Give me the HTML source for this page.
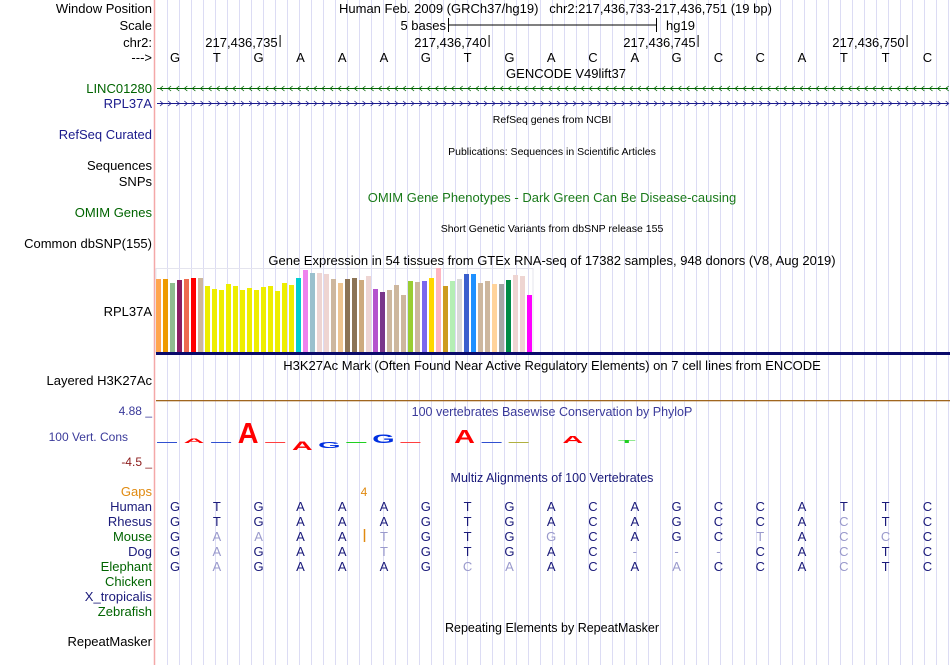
<!DOCTYPE html>
<html><head><meta charset="utf-8"><style>
html,body{margin:0;padding:0;background:#fff;}
svg{display:block;font-family:"Liberation Sans",Arial,sans-serif;}
</style></head><body>
<svg id="s" width="950" height="665" viewBox="0 0 950 665">
<g id="grid"></g>
<line x1="154.5" y1="0" x2="154.5" y2="665" stroke="#f4a8a8" stroke-width="1.5"/>
<g font-size="13" text-anchor="end">
<text x="152" y="13" fill="#000">Window Position</text>
<text x="152" y="30" fill="#000">Scale</text>
<text x="152" y="47" fill="#000">chr2:</text>
<text x="152" y="62" fill="#000">---&gt;</text>
<text x="152" y="93" fill="#006400">LINC01280</text>
<text x="152" y="108" fill="#1a1a8c">RPL37A</text>
<text x="152" y="139" fill="#1a1a8c">RefSeq Curated</text>
<text x="152" y="170" fill="#000">Sequences</text>
<text x="152" y="186" fill="#000">SNPs</text>
<text x="152" y="217" fill="#006400">OMIM Genes</text>
<text x="152" y="248" fill="#000">Common dbSNP(155)</text>
<text x="152" y="316" fill="#000">RPL37A</text>
<text x="152" y="385" fill="#000">Layered H3K27Ac</text>
<text x="152" y="415" fill="#3a3a9a" font-size="12">4.88 _</text>
<text x="128" y="441" fill="#3a3a9a" font-size="12">100 Vert. Cons</text>
<text x="152" y="466" fill="#8b1a1a" font-size="12">-4.5 _</text>
<text x="152" y="496" fill="#e08a10">Gaps</text>
<text x="152" y="511" fill="#1a1a7a">Human</text>
<text x="152" y="526" fill="#1a1a7a">Rhesus</text>
<text x="152" y="541" fill="#006400">Mouse</text>
<text x="152" y="556" fill="#1a1a7a">Dog</text>
<text x="152" y="571" fill="#006400">Elephant</text>
<text x="152" y="586" fill="#006400">Chicken</text>
<text x="152" y="601" fill="#1a1a7a">X_tropicalis</text>
<text x="152" y="616" fill="#006400">Zebrafish</text>
<text x="152" y="646" fill="#000">RepeatMasker</text>
</g>
<g font-size="13" fill="#000">
<text x="339" y="13">Human Feb. 2009 (GRCh37/hg19)&#160;&#160; chr2:217,436,733-217,436,751 (19 bp)</text>
<text x="446" y="30" text-anchor="end">5 bases</text>
<line x1="448" y1="25" x2="656" y2="25" stroke="#000"/>
<line x1="448.5" y1="18" x2="448.5" y2="32" stroke="#000"/>
<line x1="656.5" y1="18" x2="656.5" y2="32" stroke="#000"/>
<text x="666" y="30">hg19</text>
<text x="566" y="78" text-anchor="middle">GENCODE V49lift37</text>
</g>
<g id="ruler" font-size="13"></g>
<g id="bases" font-size="13" text-anchor="middle"></g>
<g id="genes"></g>
<g font-size="10.5" text-anchor="middle" fill="#000">
<text x="552" y="123">RefSeq genes from NCBI</text>
<text x="552" y="155">Publications: Sequences in Scientific Articles</text>
<text x="552" y="232">Short Genetic Variants from dbSNP release 155</text>
</g>
<g font-size="13" text-anchor="middle">
<text x="552" y="202" fill="#1a7a1a">OMIM Gene Phenotypes - Dark Green Can Be Disease-causing</text>
<text x="552" y="265" fill="#000">Gene Expression in 54 tissues from GTEx RNA-seq of 17382 samples, 948 donors (V8, Aug 2019)</text>
<text x="552" y="370" fill="#000">H3K27Ac Mark (Often Found Near Active Regulatory Elements) on 7 cell lines from ENCODE</text>
<text x="552" y="416" fill="#3a3a9a" font-size="12.5">100 vertebrates Basewise Conservation by PhyloP</text>
<text x="552" y="482" fill="#1a1a7a" font-size="12.5">Multiz Alignments of 100 Vertebrates</text>
<text x="552" y="632" fill="#000" font-size="12.5">Repeating Elements by RepeatMasker</text>
</g>
<rect x="156" y="268.5" width="377" height="84" fill="none" stroke="#e4e4ee"/>
<g id="gtex"></g>
<rect x="156" y="352" width="794" height="3" fill="#0a0a6a"/>
<rect x="156" y="400" width="794" height="1.3" fill="#a0661e"/>
<g id="logo"></g>
<text x="364" y="496" font-size="12" fill="#e08a10" text-anchor="middle">4</text>
<line x1="364.5" y1="529" x2="364.5" y2="542" stroke="#e08a10" stroke-width="1.5"/>
<g id="maf" font-size="13" text-anchor="middle"></g>
</svg>
<script>
const NS="http://www.w3.org/2000/svg";
function mk(tag,attrs,parent,txt){const e=document.createElementNS(NS,tag);for(const k in attrs)e.setAttribute(k,attrs[k]);if(txt!==undefined)e.textContent=txt;parent.appendChild(e);return e;}
const seq=["G","T","G","A","A","A","G","T","G","A","C","A","G","C","C","A","T","T","C"];
const startPos=217436733;
const rulerTicks=[217436735,217436740,217436745,217436750];
const gtexValues=[73,73,69,72,73,74,74,66,63,62,68,66,62,64,62,65,66,61,69,67,74,82,79,79,78,73,69,73,74,72,76,63,60,62,67,57,71,70,71,74,84,66,71,73,78,78,69,71,68,68,72,77,76,57];
const gtexColors=["#FFA54F","#EE9A00","#8FBC8F","#8B1C62","#EE6A50","#FF0000","#CDB79E","#EEEE00","#EEEE00","#EEEE00","#EEEE00","#EEEE00","#EEEE00","#EEEE00","#EEEE00","#EEEE00","#EEEE00","#EEEE00","#EEEE00","#EEEE00","#00CED1","#EE82EE","#9AC0CD","#EED5D2","#EED5D2","#CDB79E","#EEC591","#8B7355","#8B7355","#CDAA7D","#EED5D2","#B452CD","#7A378B","#CDB79E","#CDB79E","#CDB79E","#9ACD32","#CDB79E","#7B68EE","#FFD700","#FFB6C1","#CD9B1D","#B4EEB4","#D9D9D9","#3A5FCD","#1E90FF","#CDB79E","#CDB79E","#FFD39B","#A6A6A6","#008B45","#EED5D2","#EED5D2","#FF00FF"];
const logoLetters=["-","A","-","A","-","A","G","-","G","-","-","A","-","-","-","A","-","T"];
const logoScores=[0.2,0.4,0.2,1.7,0.1,-0.7,-0.5,0.2,0.7,-0.1,0,1.1,0.15,-0.1,0,0.6,0,0.25];
const logoColors=["#3050d0","#ff0000","#3050d0","#ff0000","#ff4040","#ff0000","#0030e0","#20d020","#0030e0","#ff4040","#fff","#ff0000","#3050d0","#b0b040","#fff","#ff0000","#fff","#20d020"];
const species=["Human","Rhesus","Mouse","Dog","Elephant"];
const alignRows=["GTGAAAGTGACAGCCATTC","GTGAAAGTGACAGCCACTC","GAAAATGTGGCAGCTACCC","GAGAATGTGAC---CACTC","GAGAAAGCAACAACCACTC"];
const xBase=i=>175+i*41.8;
const xPos=p=>xBase(p-startPos)+21;
const xBar=i=>156+i*7;
const yBar=v=>352-v;
const xLogo=i=>167+i*27.05;
const logoBase=443, logoScale=10;
const grid=document.getElementById('grid');
for(let x=167;x<950;x+=12.02){const l=mk('line',{x1:Math.round(x)+.5,y1:0,x2:Math.round(x)+.5,y2:665,stroke:'#dcdcf4'},grid);

}
const ruler=document.getElementById('ruler');
rulerTicks.forEach(p=>{const x=xPos(p);
const t=mk('text',{x:x-2,y:47,'text-anchor':'end'},ruler,p.toLocaleString('en-US'));


const l=mk('line',{x1:x+.5,y1:35,x2:x+.5,y2:47,stroke:'#000'},ruler);

});
const bases=document.getElementById('bases');
seq.forEach((b,i)=>{const t=mk('text',{x:xBase(i),y:62},bases,b);

});
const genes=document.getElementById('genes');
[[88,'#006400','<','linc01280-gene'],[103,'#1a1a8c','>','rpl37a-gene']].forEach(([y,c,d,n])=>{
const g=mk('g',{},genes);


mk('line',{x1:157,y1:y+.5,x2:948,y2:y+.5,stroke:c},g);
for(let x=160;x<946;x+=8.1){const p=d=='<'?`M${x+3},${y-2}L${x},${y+.5}L${x+3},${y+3}`:`M${x},${y-2}L${x+3},${y+.5}L${x},${y+3}`;mk('path',{d:p,stroke:c,fill:'none','stroke-width':0.8},g);}
});
const gtex=document.getElementById('gtex');
gtexValues.forEach((v,i)=>{const r=mk('rect',{x:xBar(i),y:yBar(v),width:5,height:v,fill:gtexColors[i]},gtex);

});
const logo=document.getElementById('logo');
logoLetters.forEach((L,i)=>{const s=logoScores[i];const x=xLogo(i);
if(s===0)return;
if(L==='-'){const r=mk('rect',{x:x-10,y:logoBase-1,width:20,height:1,fill:logoColors[i]},logo);

return;}
const h=Math.abs(s)*logoScale;const sy=h/9.5;const y=s>0?logoBase:logoBase+h;
const t=mk('text',{x:0,y:0,'font-size':16,'font-weight':'bold','text-anchor':'middle',fill:logoColors[i],transform:`translate(${x},${y}) scale(1.8,${sy})`},logo,L);


});
const maf=document.getElementById('maf');
alignRows.forEach((row,r)=>{row.split('').forEach((b,i)=>{const match=b===seq[i];
const t=mk('text',{x:xBase(i),y:511+r*15,fill:match?'#1a1a7a':'#9a9acc'},maf,b);

});});
</script>
</body></html>
